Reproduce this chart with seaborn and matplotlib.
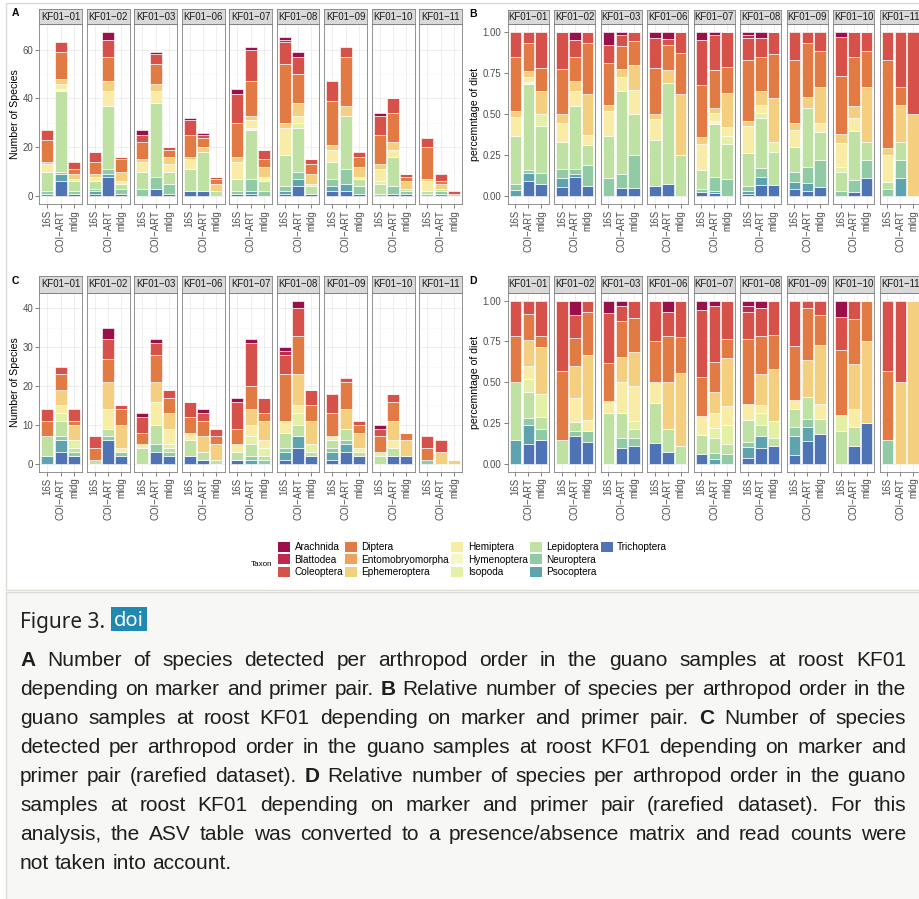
import matplotlib
matplotlib.use('Agg')
import matplotlib.pyplot as plt
import seaborn as sns
import pandas as pd
from matplotlib.patches import Rectangle, Patch

# ---- data -------------------------------------------------------------
taxa = ['Arachnida', 'Blattodea', 'Coleoptera', 'Diptera', 'Entomobryomorpha',
        'Ephemeroptera', 'Hemiptera', 'Hymenoptera', 'Isopoda', 'Lepidoptera',
        'Neuroptera', 'Psocoptera', 'Trichoptera']
taxon_colors = ['#99104a', '#bd2a4c', '#d5514a', '#e27a43', '#eda35e',
                '#f3cf7f', '#f9eca6', '#f6f7c2', '#e4f0a6', '#bfe1a4',
                '#90cba5', '#5ea3ae', '#4f74b6']
samples = ['KF01-01', 'KF01-02', 'KF01-03', 'KF01-06', 'KF01-07',
           'KF01-08', 'KF01-09', 'KF01-10', 'KF01-11']
markers = ['16S', 'COI-ART', 'mldg']

# one row per sample x marker, columns follow `taxa`
counts_full = [
    [0, 0, 4, 9, 0, 1, 3, 0, 0, 8, 1, 1, 0],
    [0, 0, 4, 11, 0, 2, 2, 1, 0, 33, 1, 3, 6],
    [0, 0, 3, 2, 0, 2, 0, 0, 1, 4, 1, 0, 1],
    [0, 0, 4, 5, 0, 1, 2, 0, 0, 3, 1, 1, 1],
    [3, 0, 7, 10, 0, 4, 6, 0, 0, 26, 2, 1, 8],
    [0, 0, 1, 5, 0, 4, 1, 0, 0, 2, 2, 0, 1],
    [2, 0, 3, 7, 0, 1, 4, 0, 0, 7, 3, 0, 0],
    [1, 0, 4, 8, 0, 3, 5, 0, 0, 30, 5, 0, 3],
    [0, 0, 1, 3, 0, 3, 3, 0, 0, 5, 4, 0, 1],
    [1, 0, 6, 9, 0, 1, 4, 0, 0, 9, 0, 0, 2],
    [1, 0, 1, 4, 0, 2, 0, 0, 0, 16, 0, 0, 2],
    [0, 0, 1, 2, 0, 3, 0, 0, 0, 2, 0, 0, 0],
    [2, 0, 12, 14, 0, 2, 7, 0, 0, 5, 1, 0, 1],
    [1, 0, 13, 14, 0, 2, 3, 1, 0, 20, 5, 1, 1],
    [0, 0, 4, 3, 0, 4, 1, 0, 1, 4, 2, 0, 0],
    [1, 1, 9, 24, 0, 2, 11, 0, 0, 13, 2, 1, 1],
    [2, 0, 7, 12, 0, 5, 3, 0, 2, 18, 3, 3, 4],
    [0, 0, 2, 4, 0, 4, 0, 0, 1, 3, 0, 0, 1],
    [0, 0, 8, 18, 0, 2, 5, 0, 0, 7, 3, 2, 2],
    [0, 0, 4, 20, 0, 4, 0, 0, 0, 22, 6, 3, 2],
    [0, 0, 2, 4, 0, 4, 1, 0, 0, 3, 3, 0, 1],
    [1, 0, 8, 12, 0, 2, 5, 0, 1, 4, 1, 0, 0],
    [0, 0, 6, 12, 0, 3, 3, 0, 0, 12, 3, 0, 1],
    [0, 0, 1, 2, 0, 3, 0, 0, 0, 1, 1, 0, 1],
    [0, 0, 4, 13, 0, 1, 4, 0, 0, 1, 1, 0, 0],
    [0, 0, 3, 1, 0, 2, 0, 0, 0, 1, 1, 1, 0],
    [0, 0, 1, 0, 0, 1, 0, 0, 0, 0, 0, 0, 0],
]

counts_rare = [
    [0, 0, 3, 4, 0, 0, 0, 0, 0, 5, 0, 2, 0],
    [0, 0, 2, 4, 0, 4, 2, 0, 2, 4, 1, 3, 3],
    [0, 0, 3, 1, 0, 4, 0, 0, 2, 1, 1, 0, 2],
    [0, 0, 3, 3, 0, 0, 0, 0, 0, 1, 0, 0, 0],
    [3, 0, 5, 6, 0, 7, 5, 0, 0, 2, 1, 0, 6],
    [0, 0, 1, 4, 0, 6, 1, 0, 0, 0, 1, 0, 2],
    [1, 0, 4, 3, 0, 0, 1, 0, 0, 4, 0, 0, 0],
    [1, 0, 3, 7, 0, 5, 6, 0, 0, 5, 2, 0, 3],
    [0, 0, 2, 4, 0, 4, 4, 0, 1, 1, 1, 0, 2],
    [0, 0, 4, 4, 0, 0, 2, 0, 0, 4, 0, 0, 2],
    [1, 0, 2, 4, 0, 4, 0, 0, 0, 2, 0, 0, 1],
    [0, 0, 2, 2, 0, 4, 0, 0, 0, 1, 0, 0, 0],
    [1, 0, 7, 4, 0, 0, 2, 0, 0, 2, 0, 0, 1],
    [1, 0, 11, 6, 0, 4, 3, 0, 2, 3, 1, 1, 0],
    [0, 0, 4, 2, 0, 5, 2, 0, 2, 1, 1, 0, 0],
    [1, 1, 5, 12, 0, 0, 3, 0, 0, 4, 1, 2, 1],
    [2, 0, 7, 10, 0, 8, 2, 0, 3, 3, 0, 3, 4],
    [0, 0, 4, 4, 0, 6, 0, 0, 2, 1, 0, 0, 2],
    [0, 0, 5, 6, 0, 0, 1, 0, 0, 2, 1, 2, 1],
    [0, 0, 1, 7, 0, 5, 0, 0, 0, 3, 1, 2, 3],
    [0, 0, 1, 2, 0, 4, 1, 0, 0, 1, 0, 0, 2],
    [1, 0, 2, 4, 0, 0, 0, 0, 1, 2, 0, 0, 0],
    [0, 0, 2, 5, 0, 5, 2, 0, 0, 2, 0, 0, 2],
    [0, 0, 0, 2, 0, 4, 0, 0, 0, 0, 0, 0, 2],
    [0, 0, 3, 3, 0, 0, 0, 0, 0, 0, 1, 0, 0],
    [0, 0, 3, 0, 0, 3, 0, 0, 0, 0, 0, 0, 0],
    [0, 0, 0, 0, 0, 1, 0, 0, 0, 0, 0, 0, 0],
]

caption_lines = [
    "**A** Number of species detected per arthropod order in the guano samples at roost KF01",
    "depending on marker and primer pair. **B** Relative number of species per arthropod order in the",
    "guano samples at roost KF01 depending on marker and primer pair. **C** Number of species",
    "detected per arthropod order in the guano samples at roost KF01 depending on marker and",
    "primer pair (rarefied dataset). **D** Relative number of species per arthropod order in the guano",
    "samples at roost KF01 depending on marker and primer pair (rarefied dataset). For this",
    "analysis, the ASV table was converted to a presence/absence matrix and read counts were",
    "not taken into account.",
]


def to_long(counts):
    rows = []
    for r, row in enumerate(counts):
        s = samples[r // 3]
        m = r % 3
        for t, n in zip(taxa, row):
            if n > 0:
                rows.append({'sample': s, 'pos': m, 'taxon': t, 'n': n})
    return pd.DataFrame(rows)


# ---- figure -----------------------------------------------------------
plt.rcParams['font.family'] = ['Liberation Sans', 'DejaVu Sans']
W, H = 919, 899
fig = plt.figure(figsize=(W / 100, H / 100), dpi=100)
fig.patch.set_facecolor('white')

# frame around the figure image and the caption box
fig.patches.append(Rectangle((6 / W, 1 - 590 / H), 930 / W, 587 / H, transform=fig.transFigure,
                             facecolor='white', edgecolor='#dcdcd4', lw=1.0, zorder=-10))
fig.patches.append(Rectangle((6 / W, 1 - 910 / H), 930 / W, 318 / H, transform=fig.transFigure,
                             facecolor='#f7f7f5', edgecolor='#dcdcd4', lw=1.0, zorder=-10))


def px_axes(x0, y0, x1, y1):
    return fig.add_axes([x0 / W, 1 - y1 / H, (x1 - x0) / W, (y1 - y0) / H])


palette = dict(zip(taxa, taxon_colors))
edge_grey = '#808080'
text_grey = '#4d4d4d'


def draw_panel(counts, mode, left0, step, fw, y_strip, y_top, y_bot,
               major, minor, tick_fmt, ylab, ylab_x, tag, tag_xy):
    df = to_long(counts)
    if mode == 'fill':
        ylim = (-0.05, 1.05)
    else:
        top = max(sum(r) for r in counts)
        ylim = (-0.05 * top, 1.05 * top)
    for i, s in enumerate(samples):
        x0 = left0 + i * step
        ax = px_axes(x0, y_top, x0 + fw, y_bot)
        sub = df[df['sample'] == s]
        sns.histplot(data=sub, x='pos', weights='n', hue='taxon', hue_order=taxa,
                     palette=palette, multiple=mode, discrete=True, shrink=0.9,
                     edgecolor='white', linewidth=0.45, alpha=1, legend=False, ax=ax)
        ax.set_xlim(-0.6, 2.6)
        ax.set_ylim(*ylim)
        ax.set_xlabel('')
        ax.set_ylabel('')
        ax.set_xticks([0, 1, 2])
        ax.set_xticklabels([m.replace('-', '\u2212') for m in markers], rotation=90,
                           ha='center', va='top', fontsize=6.9, color=text_grey)
        ax.set_yticks(major)
        ax.set_yticks(minor, minor=True)
        ax.tick_params(axis='x', length=3, width=0.5, color=text_grey, pad=1.2)
        ax.tick_params(axis='y', which='minor', length=0)
        if i == 0:
            ax.set_yticklabels([tick_fmt(v) for v in major], fontsize=6.9, color=text_grey)
            ax.tick_params(axis='y', which='major', length=3, width=0.5, color=text_grey, pad=1.5)
        else:
            ax.tick_params(axis='y', which='major', left=False, labelleft=False)
        ax.grid(True, which='major', color='#ebebeb', lw=0.6)
        ax.grid(True, which='minor', axis='y', color='#f5f5f5', lw=0.4)
        ax.set_axisbelow(True)
        for sp in ax.spines.values():
            sp.set_color(edge_grey)
            sp.set_linewidth(0.6)

        sax = px_axes(x0, y_strip, x0 + fw, y_top)
        sax.set_facecolor('#d9d9d9')
        sax.set_xticks([])
        sax.set_yticks([])
        for sp in sax.spines.values():
            sp.set_color(edge_grey)
            sp.set_linewidth(0.6)
        sax.text(0.5, 0.5, s.replace('-', '\u2212'), ha='center', va='center',
                 fontsize=6.9, color='#1a1a1a', transform=sax.transAxes)

    fig.text(ylab_x / W, 1 - ((y_top + y_bot) / 2) / H, ylab, rotation=90,
             ha='center', va='center', fontsize=7.6)
    fig.text(tag_xy[0] / W, 1 - tag_xy[1] / H, tag, ha='center', va='center',
             fontsize=7.5, fontweight='bold')


count_fmt = lambda v: '%d' % v
prop_fmt = lambda v: '%.2f' % v
prop_major = [0, 0.25, 0.5, 0.75, 1.0]
prop_minor = [0.125, 0.375, 0.625, 0.875]

draw_panel(counts_full, 'stack', 39.3, 47.5, 42.7, 9.3, 24.3, 204.3,
           [0, 20, 40, 60], [10, 30, 50, 70], count_fmt,
           'Number of Species', 15, 'A', (15, 13))
draw_panel(counts_full, 'fill', 507.7, 46.5, 41.2, 9.8, 24.3, 204.3,
           prop_major, prop_minor, prop_fmt,
           'percemntage of diet', 475, 'B', (473, 14))
draw_panel(counts_rare, 'stack', 39.3, 47.5, 42.7, 276.0, 292.5, 471.8,
           [0, 10, 20, 30, 40], [5, 15, 25, 35], count_fmt,
           'Number of Species', 15, 'C', (15, 281))
draw_panel(counts_rare, 'fill', 507.7, 46.5, 41.2, 276.0, 292.5, 471.8,
           prop_major, prop_minor, prop_fmt,
           'percemntage of diet', 475, 'D', (473, 281))

# legend: 5 columns of 3, last column has only Trichoptera
handles = [Patch(facecolor=c, edgecolor='none') for c in taxon_colors]
handles += [Patch(facecolor='none', edgecolor='none')] * 2
labels = taxa + ['', '']
fig.legend(handles, labels, ncol=5, loc='upper left',
           bbox_to_anchor=(278 / W, 1 - 541.5 / H), frameon=False, fontsize=7.2,
           handlelength=1.2, handleheight=1.2, handletextpad=0.45,
           columnspacing=0.2, labelspacing=0.22, borderpad=0, borderaxespad=0)
fig.text(262 / W, 1 - 564 / H, 'Taxon', ha='center', va='center', fontsize=5.8)

# ---- caption ----------------------------------------------------------
fig.text(20.5 / W, 1 - 628 / H, 'Figure 3.', fontsize=15, family=['Noto Sans', 'DejaVu Sans'],
         color='#222222', va='baseline', ha='left')
fig.patches.append(Rectangle((111 / W, 1 - 631 / H), 36 / W, 24 / H, transform=fig.transFigure,
                             facecolor='#1f89b0', edgecolor='none'))
fig.text(129 / W, 1 - 626 / H, 'doi', fontsize=14.5, family=['Noto Sans', 'DejaVu Sans'],
         color='white', va='baseline', ha='center')

renderer = fig.canvas.get_renderer()
probe = fig.text(0, 0, 'a a', fontsize=15)
probe2 = fig.text(0, 0, 'aa', fontsize=15)
space_w = probe.get_window_extent(renderer).width - probe2.get_window_extent(renderer).width
probe.remove()
probe2.remove()

x_left, x_right = 20, 906
for k, line in enumerate(caption_lines):
    yb = 666 + k * 29.0
    objs = []
    for w in line.split(' '):
        bold = w.startswith('**')
        objs.append(fig.text(0, 1 - yb / H, w.strip('*'), fontsize=15, color='#1e1e1e',
                             fontweight='bold' if bold else 'normal',
                             va='baseline', ha='left'))
    widths = [o.get_window_extent(renderer).width for o in objs]
    if k < len(caption_lines) - 1:
        gap = (x_right - x_left - sum(widths)) / (len(objs) - 1)
    else:
        gap = space_w
    x = x_left
    for o, w in zip(objs, widths):
        o.set_x(x / W)
        x += w + gap

fig.savefig('out.png', dpi=100, facecolor='white')
